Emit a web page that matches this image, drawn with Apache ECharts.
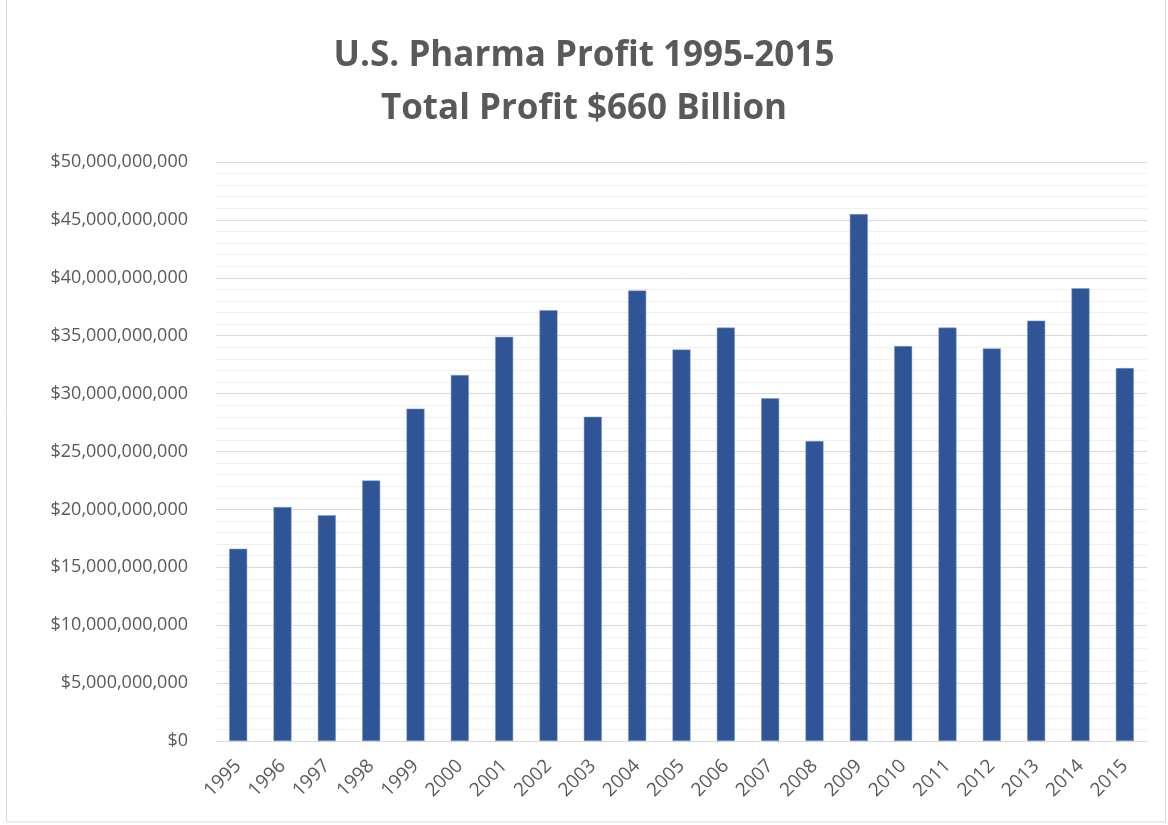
<!DOCTYPE html>
<html>
<head>
    <meta charset="utf-8">
    <title>U.S. Pharma Profit 1995-2015</title>
    <script src="https://cdn.jsdelivr.net/npm/echarts@6/dist/echarts.min.js"></script>
    <style>
        html, body { margin: 0; padding: 0; background: #fff; }
    </style>
</head>
<body>
<div id="main" style="width: 1168px;height:825px;"></div>
<script type="text/javascript">
    // years on the x axis
    var years = ['1995', '1996', '1997', '1998', '1999', '2000', '2001', '2002', '2003', '2004', '2005',
                 '2006', '2007', '2008', '2009', '2010', '2011', '2012', '2013', '2014', '2015'];
    // profit per year, in billions of dollars
    var profitBillions = [16.6, 20.2, 19.5, 22.5, 28.7, 31.6, 34.9, 37.2, 28.0, 38.9, 33.8,
                          35.7, 29.6, 25.9, 45.5, 34.1, 35.7, 33.9, 36.3, 39.1, 32.2];
    var profit = profitBillions.map(function (v) { return v * 1e9; });

    var formatDollar = function (v) {
        return '$' + Math.round(v).toString().replace(/\B(?=(\d{3})+(?!\d))/g, ',');
    };

    var myChart = echarts.init(document.getElementById('main'));
    var textColor = '#595959';
    var font = '"Open Sans", "Liberation Sans", sans-serif';

    var option = {
        animation: false,
        backgroundColor: '#ffffff',
        title: {
            text: 'U.S. Pharma Profit 1995-2015\nTotal Profit $660 Billion',
            left: 'center',
            top: 25,
            textStyle: {
                color: textColor,
                fontFamily: font,
                fontWeight: 'bold',
                fontSize: 35,
                lineHeight: 53
            }
        },
        grid: {
            left: 216,
            right: 21,
            top: 162,
            bottom: 84
        },
        xAxis: {
            type: 'category',
            data: years,
            axisLine: { lineStyle: { color: '#d9d9d9', width: 1 } },
            axisTick: { show: false },
            axisLabel: {
                rotate: 45,
                color: textColor,
                fontFamily: font,
                fontSize: 19,
                margin: 22
            }
        },
        yAxis: {
            type: 'value',
            min: 0,
            max: 50e9,
            interval: 5e9,
            axisLine: { show: false },
            axisTick: { show: false },
            axisLabel: {
                color: textColor,
                fontFamily: font,
                fontSize: 18,
                margin: 28,
                formatter: formatDollar
            },
            splitLine: { lineStyle: { color: '#d9d9d9', width: 1 } },
            minorTick: { show: false, splitNumber: 5 },
            minorSplitLine: { show: true, lineStyle: { color: '#f0f0f0', width: 1 } }
        },
        series: [{
            name: 'Profit',
            type: 'bar',
            data: profit,
            barWidth: 18,
            itemStyle: {
                color: '#2F5597',
                borderColor: '#7f9bd0',
                borderWidth: 0.5
            }
        }],
        graphic: [{
            type: 'rect',
            shape: { x: 6.5, y: -1, width: 1159, height: 823 },
            style: { fill: 'none', stroke: '#d9d9d9', lineWidth: 1 },
            silent: true
        }]
    };

    myChart.setOption(option);
</script>
</body>
</html>
